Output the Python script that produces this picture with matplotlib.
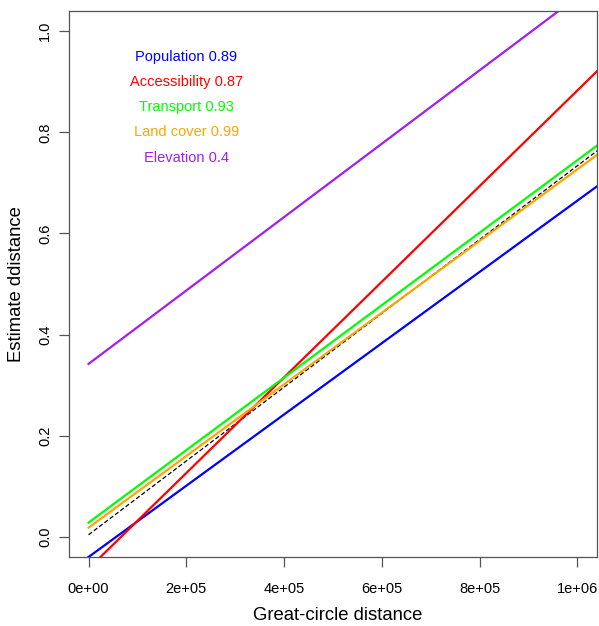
import matplotlib
matplotlib.use("Agg")
import matplotlib.pyplot as plt
import numpy as np

# fitted lines: estimate = intercept + slope * distance
names = ["Population", "Accessibility", "Transport", "Land cover", "Elevation"]
scores = ["0.89", "0.87", "0.93", "0.99", "0.4"]
colors = ["#0000FF", "#FF0000", "#00FF00", "#FFA500", "#A020F0"]
intercepts = [-0.040, -0.063, 0.028, 0.018, 0.342]
slopes = [0.705e-6, 0.946e-6, 0.717e-6, 0.709e-6, 0.726e-6]

# dashed reference line
ref_intercept = 0.004
ref_slope = 0.730e-6

xticks = [0, 2e5, 4e5, 6e5, 8e5, 1e6]
xticklabels = ["0e+00", "2e+05", "4e+05", "6e+05", "8e+05", "1e+06"]
yticks = [0.0, 0.2, 0.4, 0.6, 0.8, 1.0]
yticklabels = ["0.0", "0.2", "0.4", "0.6", "0.8", "1.0"]

plt.rcParams['font.family'] = ['Liberation Sans', 'DejaVu Sans']

fig = plt.figure(figsize=(5.99, 6.26), dpi=100)
ax = fig.add_axes([69/599, 1 - 557/626, (597 - 69)/599, (557 - 11)/626])

x = np.array([0, 1.2e6])
ax.plot(x, ref_intercept + ref_slope * x, color="black", lw=0.9, ls=(0, (3.5, 1.8)))
for c, a, b in zip(colors, intercepts, slopes):
    ax.plot(x, a + b * x, color=c, lw=1.6)

for i, (n, s, c) in enumerate(zip(names, scores, colors)):
    ax.text(2e5, 0.95 - 0.05 * i, f"{n} {s}", color=c, ha="center", va="center", fontsize=10.5)

ax.set_xlim(-0.04e6, 1.04e6)
ax.set_ylim(-0.04, 1.04)
ax.set_xticks(xticks)
ax.set_xticklabels(xticklabels)
ax.set_yticks(yticks)
ax.set_yticklabels(yticklabels, rotation=90, va="center")
ax.tick_params(axis="both", length=7, width=0.9, color="#555555", labelsize=10.5)
ax.tick_params(axis="x", pad=11)
ax.tick_params(axis="y", pad=5)
for sp in ax.spines.values():
    sp.set_color("#555555")
    sp.set_linewidth(0.9)

# x title sits at the very bottom edge, kept just inside the canvas
fig.text((69 + 597) / 2 / 599 + 0.008, 2/626, "Great-circle distance", ha="center", va="bottom", fontsize=13.3)
fig.text(17/599, 1 - 284/626, "Estimate ddistance", rotation=90, ha="center", va="center", fontsize=13.3)

fig.savefig("out.png", dpi=100)
